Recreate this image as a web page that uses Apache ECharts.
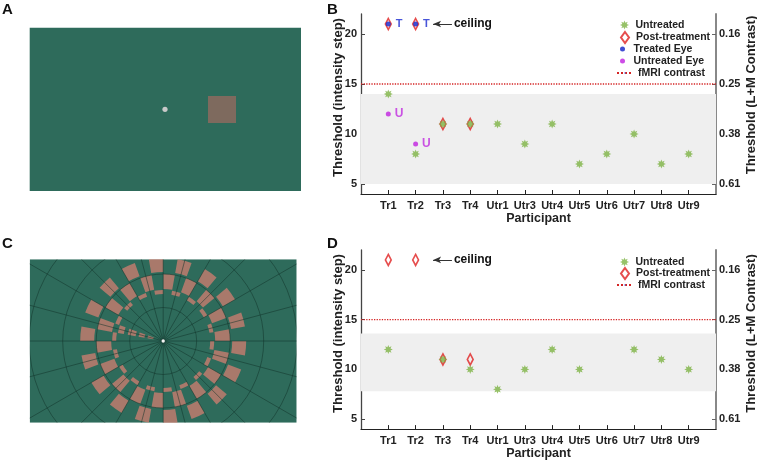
<!DOCTYPE html>
<html>
<head>
<meta charset="utf-8">
<script src="https://cdn.jsdelivr.net/npm/echarts@6/dist/echarts.min.js"></script>
<style>
  html, body { margin: 0; padding: 0; background: #fff; }
  #chart { width: 757px; height: 461px; }
</style>
</head>
<body>
<div id="chart"></div>
<script>
// 参与者及阈值数据
const participants = ['Tr1', 'Tr2', 'Tr3', 'Tr4', 'Utr1', 'Utr3', 'Utr4', 'Utr5', 'Utr6', 'Utr7', 'Utr8', 'Utr9'];
const untreatedB = [14, 8, 11, 11, 11, 9, 11, 7, 8, 10, 7, 8];
const postB = [21, 21, 11, 11, null, null, null, null, null, null, null, null];
const treatedEyeB = [21, 21, null, null, null, null, null, null, null, null, null, null];
const untreatedEyeB = [12, 9, null, null, null, null, null, null, null, null, null, null];
const untreatedD = [12, null, 11, 10, 8, 10, 12, 10, null, 12, 11, 10];
const postD = [21, 21, 11, 11, null, null, null, null, null, null, null, null];
const bandB = [5, 14];
const bandD = [7.8, 13.6];
const fmriLevel = 15;
const ceilingLevel = 21;
const ceilingArrowX = [2.64, 3.33];
const thresholdTicks = [5, 10, 15, 20];
const contrastTicks = ['0.61', '0.38', '0.25', '0.16'];

// 刺激示意图（C）环形棋盘：半径区间
const wedgeSegments = [[10, 16], [19, 25], [28, 36], [40, 46]];
const ringSegments = [[47, 51], [52, 67], [69, 83]];
const ringPhase = [1, 0, 1]; // 1: 奇数扇区, 0: 偶数扇区
const wedgeSector = 16;
const sectorCount = 36;

const FONT = '"Liberation Sans", Arial, sans-serif';
const GREEN = '#7db343';
const RED = '#e02020';
const BROWN = '#a9796b';
const BG = '#2e6b5b';
const CLEAR = 'rgba(0,0,0,0)';

// 星号符号
function asteriskPath() {
  let pts = [];
  for (let k = 0; k < 16; k++) {
    const a = (k * 22.5 - 90) * Math.PI / 180;
    const r = k % 2 === 0 ? 10 : 5.2;
    pts.push((10 + r * Math.cos(a)).toFixed(2) + ',' + (10 + r * Math.sin(a)).toFixed(2));
  }
  return 'path://M' + pts.join('L') + 'Z';
}
const ASTER = asteriskPath();
const DIAMOND = 'path://M4,0L8,5.5L4,11L0,5.5Z';

function toPoints(arr) {
  return arr.map((v, i) => (v == null ? null : [i + 1, v])).filter(p => p);
}

const chart = echarts.init(document.getElementById('chart'), null, { renderer: 'canvas' });

function xAxisOpt(gi) {
  return {
    gridIndex: gi, type: 'value', min: 0, max: 13,
    axisLine: { lineStyle: { color: '#222', width: 1.2 } },
    axisTick: { inside: true, length: 4, customValues: participants.map((p, i) => i + 1), lineStyle: { color: '#222' } },
    axisLabel: {
      customValues: participants.map((p, i) => i + 1),
      formatter: v => participants[v - 1] || '',
      fontWeight: 'bold', fontSize: 11, color: '#222', margin: 6
    },
    splitLine: { show: false },
    name: 'Participant', nameLocation: 'middle', nameGap: 16,
    nameTextStyle: { fontWeight: 'bold', fontSize: 12.5, color: '#222' }
  };
}
function yLeftOpt(gi) {
  return {
    gridIndex: gi, type: 'value', min: 4, max: 22,
    axisLine: { show: true, lineStyle: { color: '#444', width: 1.3 } },
    axisTick: { show: true, inside: true, length: 4, customValues: thresholdTicks, lineStyle: { color: '#444' } },
    axisLabel: { customValues: thresholdTicks, fontWeight: 'bold', fontSize: 11, color: '#222', margin: 4 },
    splitLine: { show: false }
  };
}
function yRightOpt(gi) {
  return {
    gridIndex: gi, type: 'value', position: 'right', min: 4, max: 22,
    axisLine: { show: true, lineStyle: { color: '#888', width: 2 } },
    axisTick: { show: true, inside: true, length: 4, customValues: thresholdTicks, lineStyle: { color: '#666' } },
    axisLabel: {
      customValues: thresholdTicks,
      formatter: v => contrastTicks[thresholdTicks.indexOf(v)],
      fontWeight: 'bold', fontSize: 11, color: '#222', margin: 3
    },
    splitLine: { show: false }
  };
}

function panelSeries(gi, band, untreated, post, eyes) {
  const yL = gi * 2, yR = gi * 2 + 1;
  const s = [
    {
      name: 'fMRI contrast', type: 'line', xAxisIndex: gi, yAxisIndex: yL,
      data: [[0, fmriLevel], [13, fmriLevel]], symbol: 'none', silent: true, z: 2,
      lineStyle: { color: '#d42424', width: 1.3, type: 'dotted' },
      markArea: { silent: true, itemStyle: { color: '#efefef' }, data: [[{ yAxis: band[0] }, { yAxis: band[1] }]] }
    },
    {
      name: 'Post-treatment', type: 'scatter', xAxisIndex: gi, yAxisIndex: yL,
      data: toPoints(post), symbol: DIAMOND, symbolSize: [8, 11], symbolKeepAspect: true, z: 3,
      itemStyle: { color: CLEAR, borderColor: RED, borderWidth: 1.7 },
      markLine: {
        silent: true, symbol: ['arrow', 'none'], symbolSize: [5, 8],
        lineStyle: { color: '#333', width: 1, type: 'solid' },
        label: { show: true, position: 'end', distance: 2, formatter: 'ceiling', fontWeight: 'bold', fontSize: 12, color: '#111' },
        data: [[{ coord: [ceilingArrowX[0], ceilingLevel] }, { coord: [ceilingArrowX[1], ceilingLevel] }]]
      }
    },
    {
      name: 'Untreated', type: 'scatter', xAxisIndex: gi, yAxisIndex: yL,
      data: toPoints(untreated), symbol: ASTER, symbolSize: 9, z: 4,
      itemStyle: { color: GREEN }
    },
    {
      type: 'line', xAxisIndex: gi, yAxisIndex: yR, data: [], silent: true
    }
  ];
  if (eyes) {
    s.push({
      name: 'Treated Eye', type: 'scatter', xAxisIndex: gi, yAxisIndex: yL,
      data: toPoints(eyes[0]), symbol: 'circle', symbolSize: 5, z: 5,
      itemStyle: { color: '#1020c8' },
      label: { show: true, position: 'right', distance: 5, formatter: 'T', fontWeight: 'bold', fontSize: 11, color: '#1a2ad0' }
    });
    s.push({
      name: 'Untreated Eye', type: 'scatter', xAxisIndex: gi, yAxisIndex: yL,
      data: toPoints(eyes[1]), symbol: 'circle', symbolSize: 5, z: 5,
      itemStyle: { color: '#c020e0' },
      label: { show: true, position: 'right', distance: 4, formatter: 'U', fontWeight: 'bold', fontSize: 12, color: '#c02ae0' }
    });
  }
  return s;
}

// 图例：逐项定位
function leg(name, top, left, w, h, icon) {
  return {
    data: [icon ? { name: name, icon: icon } : name], top: top, left: left, orient: 'vertical',
    itemWidth: w, itemHeight: h, padding: 0, selectedMode: false, symbolKeepAspect: true,
    textStyle: { fontSize: 10.5, fontWeight: 'bold', color: '#222', fontFamily: FONT, lineHeight: 12 }
  };
}

// 纵轴标题（竖排）
function yTitle(text, x, y) {
  return {
    type: 'text', z: 20, x: x, y: y, rotation: Math.PI / 2, silent: true,
    style: { text: text, font: 'bold 13px ' + FONT, fill: '#222', align: 'center', verticalAlign: 'middle' }
  };
}

// C 图：极坐标棋盘
const polarSeries = [];
let prev = 0;
const allSegs = wedgeSegments.map(sg => ({ seg: sg, on: i => i === wedgeSector }))
  .concat(ringSegments.map((sg, k) => ({ seg: sg, on: i => i % 2 === ringPhase[k] })));
allSegs.forEach(o => {
  const sectors = Array.from({ length: sectorCount }, (_, i) => i);
  polarSeries.push({
    type: 'bar', coordinateSystem: 'polar', polarIndex: 0, stack: 'rings', silent: true,
    barCategoryGap: '0%', barWidth: '100%', z: 2, itemStyle: { color: CLEAR },
    data: sectors.map(() => o.seg[0] - prev)
  });
  polarSeries.push({
    type: 'bar', coordinateSystem: 'polar', polarIndex: 0, stack: 'rings', silent: true,
    barCategoryGap: '0%', barWidth: '100%', z: 2,
    data: sectors.map(i => ({ value: o.seg[1] - o.seg[0], itemStyle: { color: o.on(i) ? BROWN : CLEAR } }))
  });
  prev = o.seg[1];
});

const CX = 163.2, CY = 341, PR = 167.5;
const gridLine = { color: 'rgba(18,52,43,0.75)', width: 0.7 };

const option = {
  animation: false,
  textStyle: { fontFamily: FONT },
  grid: [
    { left: 361, right: 41, top: 14, height: 180 },
    { left: 361, right: 41, top: 250, height: 180 }
  ],
  xAxis: [xAxisOpt(0), xAxisOpt(1)],
  yAxis: [yLeftOpt(0), yRightOpt(0), yLeftOpt(1), yRightOpt(1)],
  polar: [
    { center: [CX, CY], radius: PR },
    { center: [CX, CY], radius: PR }
  ],
  angleAxis: [
    { polarIndex: 0, type: 'category', data: Array.from({ length: sectorCount }, (_, i) => i), startAngle: 0, clockwise: false, show: false },
    {
      polarIndex: 1, type: 'value', min: 0, max: 360, interval: 15, startAngle: 0, clockwise: false, z: 3,
      axisLine: { show: false }, axisTick: { show: false }, axisLabel: { show: false },
      splitLine: { show: true, lineStyle: gridLine }
    }
  ],
  radiusAxis: [
    { polarIndex: 0, type: 'value', min: 0, max: PR, show: false },
    {
      polarIndex: 1, type: 'value', min: 0, max: PR, interval: 33.5, z: 3,
      axisLine: { show: false }, axisTick: { show: false }, axisLabel: { show: false },
      splitLine: { show: true, lineStyle: gridLine }
    }
  ],
  legend: [
    leg('Untreated', 19, 620, 12, 9),
    leg('Post-treatment', 31, 620, 12, 11, DIAMOND),
    leg('Treated Eye', 43, 620, 12, 5),
    leg('Untreated Eye', 55, 620, 12, 5),
    leg('fMRI contrast', 67, 616, 16, 2),
    leg('Untreated', 256, 620, 12, 9),
    leg('Post-treatment', 267, 620, 12, 11, DIAMOND),
    leg('fMRI contrast', 279, 616, 16, 2)
  ],
  graphic: [
    // C 背景
    { type: 'rect', z: 1, shape: { x: 29.7, y: 259.3, width: 267, height: 163.4 }, style: { fill: BG }, silent: true },
    { type: 'circle', z: 9, shape: { cx: CX, cy: CY, r: 1.7 }, style: { fill: '#f4f4f4' }, silent: true },
    // 裁剪遮罩
    { type: 'rect', z: 10, shape: { x: 0, y: 160, width: 29.7, height: 301 }, style: { fill: '#fff' }, silent: true },
    { type: 'rect', z: 10, shape: { x: 296.7, y: 160, width: 36, height: 301 }, style: { fill: '#fff' }, silent: true },
    { type: 'rect', z: 10, shape: { x: 0, y: 160, width: 333, height: 99.3 }, style: { fill: '#fff' }, silent: true },
    { type: 'rect', z: 10, shape: { x: 0, y: 422.7, width: 333, height: 40 }, style: { fill: '#fff' }, silent: true },
    // A 图
    { type: 'rect', z: 11, shape: { x: 29.7, y: 27.7, width: 271.3, height: 163.3 }, style: { fill: BG }, silent: true },
    { type: 'circle', z: 12, shape: { cx: 165, cy: 109.3, r: 2.6 }, style: { fill: '#c9c9c9' }, silent: true },
    { type: 'rect', z: 12, shape: { x: 208, y: 96, width: 28, height: 27 }, style: { fill: '#7e6a5e' }, silent: true },
    // 面板标签
    { type: 'text', z: 20, left: 2, top: 2, style: { text: 'A', font: 'bold 15px ' + FONT, fill: '#111' } },
    { type: 'text', z: 20, left: 327, top: 2, style: { text: 'B', font: 'bold 15px ' + FONT, fill: '#111' } },
    { type: 'text', z: 20, left: 2, top: 236, style: { text: 'C', font: 'bold 15px ' + FONT, fill: '#111' } },
    { type: 'text', z: 20, left: 327, top: 236, style: { text: 'D', font: 'bold 15px ' + FONT, fill: '#111' } },
    // 纵轴标题
    yTitle('Threshold (intensity step)', 338, 97.5),
    yTitle('Threshold (L+M Contrast)', 751, 95),
    yTitle('Threshold (intensity step)', 338, 333.5),
    yTitle('Threshold (L+M Contrast)', 751, 333.5)
  ],
  series: panelSeries(0, bandB, untreatedB, postB, [treatedEyeB, untreatedEyeB])
    .concat(panelSeries(1, bandD, untreatedD, postD, null))
    .concat(polarSeries)
};

chart.setOption(option);
</script>
</body>
</html>
